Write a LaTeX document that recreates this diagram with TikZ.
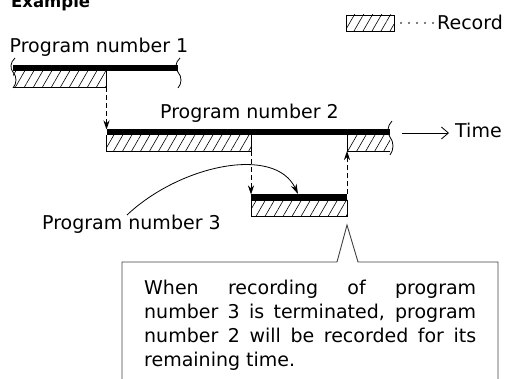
\documentclass[tikz,border=0pt]{standalone}
\usepackage{fontspec}
\setmainfont{DejaVu Sans}
\usetikzlibrary{patterns.meta,arrows.meta}
\newcommand\brkmark[3]{%
  \draw[brk] ({#1+2},{#2}) .. controls ({#1-3},{#2+0.15*#3}) and ({#1-3},{#2+0.35*#3}) .. ({#1},{#2+0.47*#3})
     .. controls ({#1+4},{#2+0.62*#3}) and ({#1+4},{#2+0.85*#3}) .. ({#1},{#2+#3});}
\begin{document}
\begin{tikzpicture}[x=1pt,y=-1pt,
  lbl/.style={font=\fontsize{19}{24}\selectfont, inner sep=0pt, anchor=base west},
  hatchfill/.style={pattern={Lines[angle=60,distance=7.8pt,line width=0.6pt]}},
  edge/.style={line width=0.8pt},
  thickbar/.style={fill=black},
  dasharrow/.style={line width=0.8pt, dash pattern=on 5pt off 3pt, -{Stealth[length=9pt,width=6pt]}},
  brk/.style={line width=0.8pt},
  callout/.style={line width=0.9pt, draw=black!75}
]
\useasboundingbox (0,0) rectangle (506,379);

% title
\node[font=\fontsize{16.5}{20}\selectfont\bfseries, inner sep=0pt, anchor=base west] (title) at (11,8) {Example};

% legend
\fill[hatchfill] (346,15) rectangle (394,31);
\draw[edge] (346,15) rectangle (394,31);
\foreach \i in {0,...,4} \fill ({401+8*\i},23) circle (0.9pt);
\node[lbl] (record) at (437,30) {Record};

% program 1
\node[lbl] (p1) at (9.5,53) {Program number 1};
\fill[thickbar] (13,65) rectangle (178,71);
\fill[hatchfill] (13,71) rectangle (106.5,87);
\draw[edge] (13,87) -- (106.5,87) -- (106.5,71);
\brkmark{13}{58}{30}
\brkmark{178}{58}{30}
\coordinate (p1end) at (106.5,87);

% program 2
\node[lbl] (p2) at (160,119) {Program number 2};
\fill[thickbar] (106.5,129.5) rectangle (390,135);
\fill[hatchfill] (106.5,135) rectangle (251,151);
\draw[edge] (106.5,135) -- (106.5,151) -- (251,151) -- (251,135);
\fill[hatchfill] (347,135) rectangle (390,151);
\draw[edge] (347,135) -- (347,151) -- (390,151);
\brkmark{390}{121}{34}
\coordinate (p2start) at (106.5,129.5);
\coordinate (p2stop) at (251,151);
\coordinate (p2resume) at (347,151);

% time arrow
\coordinate (tA) at (402,133);
\coordinate (tB) at (449,133);
\draw[line width=0.8pt, -{Straight Barb[length=7pt,width=12pt]}] (tA) -- (tB);
\node[lbl] (time) at (455,138) {Time};

% program 3
\fill[thickbar] (251,194.5) rectangle (347,200);
\fill[hatchfill] (251,200) rectangle (347,216);
\draw[edge] (251,200) rectangle (347,216);
\coordinate (p3start) at (251,194.5);
\coordinate (p3end) at (347,194.5);
\node[lbl] (p3) at (42,230) {Program number 3};

% dashed transitions
\draw[dasharrow] (p1end) -- (p2start);
\draw[dasharrow] (p2stop) -- (p3start);
\draw[dasharrow] (p3end) -- (p2resume);

% curved pointer
\coordinate (cs) at (127,215);
\coordinate (ce) at (298,194);
\draw[line width=0.8pt, -{Stealth[length=10pt,width=6pt]}] (cs) .. controls (180,165) and (275,145) .. (ce);

% callout
\draw[callout] (122,385) -- (122,262) -- (337,262) -- (347,225) -- (358,262) -- (498,262) -- (498,385);
\node[anchor=north west, inner sep=0pt, align=left, font=\fontsize{19}{24}\selectfont] (note) at (144,279.6)
 {\makebox[332pt][s]{When recording of program}\\
  \makebox[332pt][s]{number 3 is terminated, program}\\
  \makebox[332pt][s]{number 2 will be recorded for its}\\
  remaining time.};
\end{tikzpicture}
\end{document}
